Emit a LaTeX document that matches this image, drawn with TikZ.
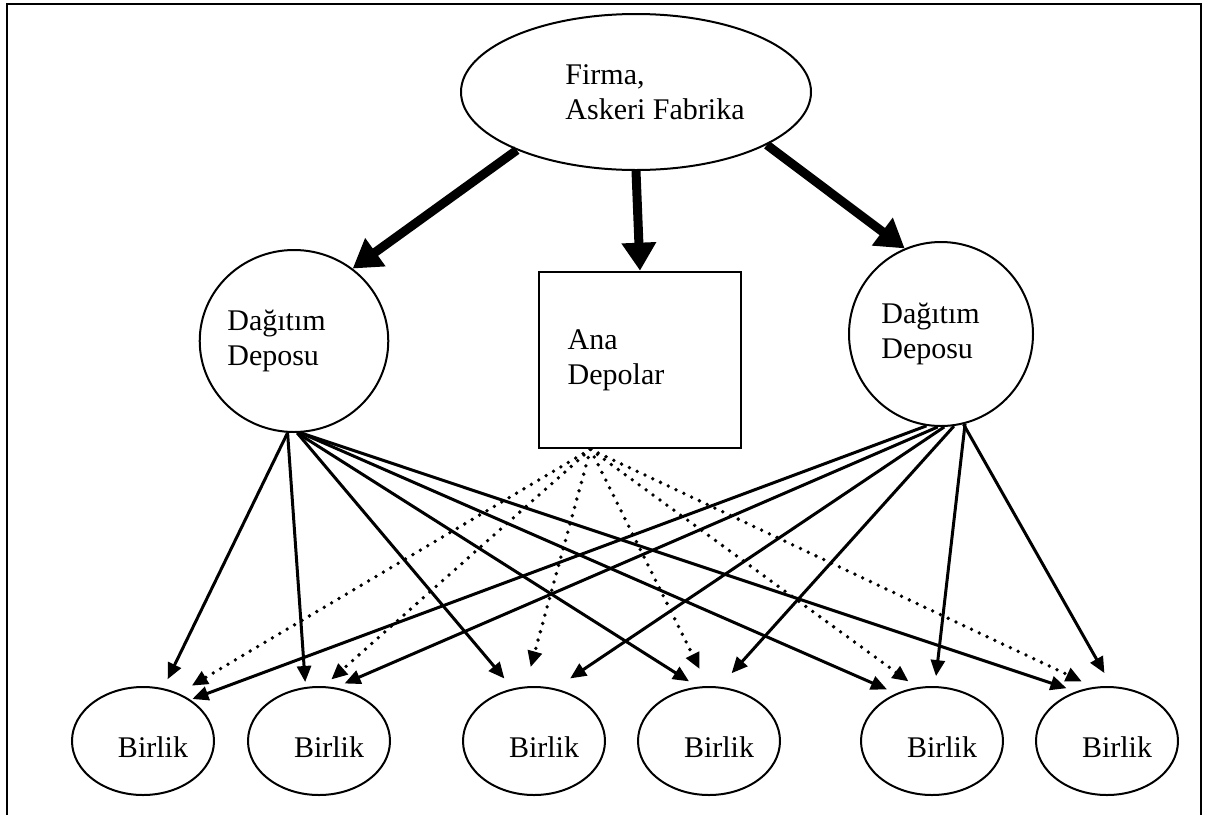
\documentclass[tikz,border=0pt]{standalone}
\usepackage{fontspec}
\setmainfont{Liberation Serif}
\usetikzlibrary{arrows.meta,shapes.geometric}

\begin{document}
\begin{tikzpicture}[x=0.5pt,y=-0.5pt,
    font=\fontsize{15pt}{17.5pt}\selectfont,
    oval/.style = {draw, ellipse, line width=1pt, inner sep=0pt},
    birlik/.style = {oval, minimum width=71pt, minimum height=54pt, text height=16pt, text depth=0pt},
    depo/.style = {oval, minimum width=93pt, minimum height=91pt, align=left},
    supply/.style = {line width=1.5pt, -{Triangle[length=8pt,width=7pt]}, shorten >=5pt},
    dotline/.style = {supply, line width=1.9pt, dash pattern=on 0pt off 4.3pt, line cap=round},
    bigarrow/.style = {line width=4.5pt, -{Triangle[length=14pt,width=16.5pt]}}]
      \useasboundingbox (0,0) rectangle (1205,815);
      \draw[line width=1.2pt] (7,815) -- (7,4) -- (1201,4) -- (1201,815);

      \node[oval, minimum width=175pt, minimum height=78pt, align=left] (firma) at (636,92) {\hspace*{19pt}Firma,\\\hspace*{19pt}Askeri Fabrika};

      \node[depo] (ldep) at (294,341) {Dağıtım\hspace*{17.5pt}\\Deposu};
      \node[draw, rectangle, line width=1.3pt, minimum width=101pt, minimum height=88pt, inner sep=0pt, align=left] (ana) at (640,360) {Ana\\Depolar\hspace*{24pt}};
      \node[depo, minimum width=92pt, minimum height=92pt] (rdep) at (941,334) {Dağıtım\hspace*{10.5pt}\\Deposu};

      \node[birlik] (b1) at (143,741) {\hspace*{10pt}Birlik};
      \node[birlik] (b2) at (319,741) {\hspace*{10pt}Birlik};
      \node[birlik] (b3) at (534,741) {\hspace*{10pt}Birlik};
      \node[birlik] (b4) at (709,741) {\hspace*{10pt}Birlik};
      \node[birlik] (b5) at (932,741) {\hspace*{10pt}Birlik};
      \node[birlik] (b6) at (1107,741) {\hspace*{10pt}Birlik};

      \draw[bigarrow] (firma.-154) -- (ldep.51);
      \draw[bigarrow] (firma.south) -- (ana.north);
      \draw[bigarrow] (firma.-22) -- (rdep.113);

      \draw[supply] (ldep.-94) -- (b1.69);
      \draw[supply, shorten >=2.5pt] (ldep.-94) -- (b2.104);
      \draw[supply, shorten >=6.5pt] (ldep.-88) -- (b3.112);
      \draw[supply] (ldep.-88) -- (b4.102);
      \draw[supply] (ldep.-86) -- (b5.127);
      \draw[supply] (ldep.-86) -- (b6.122);

      \draw[supply, shorten >=1pt] (rdep.-99) -- (b1.41);
      \draw[supply] (rdep.-92) -- (b2.73);
      \draw[supply, shorten >=9pt] (rdep.-88) -- (b3.68);
      \draw[supply, shorten >=9pt] (rdep.-82) -- (b4.79);
      \draw[supply] (rdep.-75) -- (b5.87);
      \draw[supply, shorten >=7.5pt] (rdep.-76) -- (b6.85);

      \draw[dotline, shorten >=7.5pt] (ana.-119) -- (b1.53);
      \draw[dotline] (ana.-119) -- (b2.85);
      \draw[dotline, shorten >=10pt] (ana.-119) -- (b3.99);
      \draw[dotline, shorten >=9.5pt] (ana.-119) -- (b4.91);
      \draw[dotline] (ana.-119) -- (b5.106);
      \draw[dotline, shorten >=6.5pt] (ana.-119) -- (b6.104);
    \end{tikzpicture}
\end{document}
